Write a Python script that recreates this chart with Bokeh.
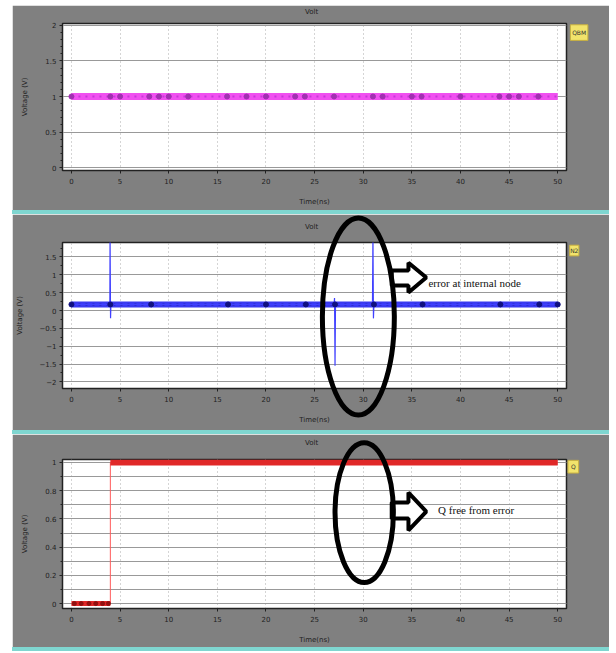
import numpy as np
from bokeh.plotting import figure
from bokeh.models import Range1d, FixedTicker, PolyAnnotation, Div
from bokeh.layouts import column
from bokeh.core.properties import value
from bokeh.embed import file_html
from bokeh.resources import INLINE

# ---------------- data ----------------
x_ticks = [0, 5, 10, 15, 20, 25, 30, 35, 40, 45, 50]
x_label = "Time(ns)"
y_label = "Voltage (V)"
panel_titles = ["Volt", "Volt", "Volt"]
legend_names = ["QBM", "N2", "Q"]

# panel 1 : constant node
p1_y_ticks = [0.0, 0.5, 1.0, 1.5, 2.0]
p1_t = [0, 50]
p1_v = [1.0, 1.0]
p1_dot_t = [0, 4, 5, 8, 9, 10, 12, 16, 18, 20, 23, 24, 27, 31, 32, 35, 36, 40, 44, 45, 46, 48]
p1_dot_v = [1.0] * len(p1_dot_t)

# panel 2 : internal node with error spikes
p2_y_ticks = [-2.0, -1.5, -1.0, -0.5, 0.0, 0.5, 1.0, 1.5]
p2_t = [0, 3.95, 3.97, 4.02, 4.06, 27.0, 27.05, 27.1, 27.15, 30.95, 31.0, 31.05, 31.1, 50]
p2_v = [0.17, 0.17, 2.1, -0.22, 0.17, 0.17, 0.35, -1.55, 0.17, 0.17, 2.1, -0.22, 0.17, 0.17]
p2_base_t = [0, 50]
p2_base_v = [0.17, 0.17]
p2_dot_t = [0, 4, 8.2, 16.1, 20, 24.1, 27.1, 31.1, 36.1, 44.1, 48.1, 50]
p2_dot_v = [0.17] * len(p2_dot_t)

# panel 3 : output Q
p3_y_ticks = [0.0, 0.2, 0.4, 0.6, 0.8, 1.0]
p3_t = [0, 4.0, 4.0, 50]
p3_v = [0.0, 0.0, 1.0, 1.0]
p3_low_t = [0, 4.0]
p3_low_v = [0.0, 0.0]
p3_high_t = [4.0, 50]
p3_high_v = [1.0, 1.0]
p3_dot_t = [0.3, 1.0, 1.8, 2.5, 3.2, 3.8]
p3_dot_v = [0.0] * len(p3_dot_t)

annot1_text = "error at internal node"
annot2_text = "Q free from error"

# ---------------- style ----------------
GRAY = "#808080"
CYAN = "#7fd6d0"
W = 597
X_RANGE = (-0.92, 50.9)


def make_panel(height, top, bottom, yr, yticks, yminor, title, tx, ty, leg, lx, ly, lw, lh):
    p = figure(width=W, height=height, x_range=Range1d(*X_RANGE), y_range=Range1d(*yr),
               output_backend="svg", toolbar_location=None,
               min_border_left=44, min_border_right=43,
               min_border_top=top, min_border_bottom=bottom)
    p.border_fill_color = GRAY
    p.background_fill_color = "white"
    p.outline_line_color = "#222222"
    p.outline_line_width = 1.5
    p.xaxis.ticker = FixedTicker(ticks=x_ticks)
    p.yaxis.ticker = FixedTicker(ticks=yticks, minor_ticks=yminor)
    for ax in (p.xaxis[0], p.yaxis[0]):
        ax.axis_line_color = "#222222"
        ax.major_tick_line_color = "#222222"
        ax.major_tick_out = 3
        ax.major_tick_in = 0
        ax.minor_tick_line_color = "#222222"
        ax.minor_tick_out = 2
        ax.minor_tick_in = 0
        ax.major_label_text_font = "DejaVu Sans"
        ax.major_label_text_font_size = "7px"
        ax.major_label_text_color = "#222222"
        ax.axis_label_text_font = "DejaVu Sans"
        ax.axis_label_text_font_size = "7px"
        ax.axis_label_text_font_style = "normal"
        ax.axis_label_text_color = "#222222"
    p.xaxis.minor_tick_line_color = None
    p.xaxis.axis_label = x_label
    p.xaxis.major_label_standoff = 4
    p.xaxis.axis_label_standoff = 11
    p.yaxis.axis_label = y_label
    p.yaxis.major_label_standoff = 3
    p.yaxis.axis_label_standoff = 13
    p.xgrid.grid_line_color = "#aaaaaa"
    p.xgrid.grid_line_dash = "1 3"
    p.ygrid.grid_line_color = "#999999"
    p.ygrid.grid_line_width = 1
    # title and legend tag drawn as overlay-level glyphs (outside the frame)
    p.text(x=[tx], y=[ty], text=[title], text_align="center", text_baseline="middle",
           text_font=value("DejaVu Sans"), text_font_size="7px", text_color="#222222",
           level="overlay")
    p.rect(x=[lx], y=[ly], width=lw, height=lh, fill_color="#f2e36b",
           line_color="#c8b040", level="overlay")
    p.text(x=[lx], y=[ly], text=[leg], text_align="center", text_baseline="middle",
           text_font=value("DejaVu Sans"), text_font_size="6px", text_color="#333333",
           level="overlay")
    return p


def ellipse_mark(p, cx, cy, rx, ry):
    p.ellipse(x=[cx], y=[cy], width=2 * rx, height=2 * ry, fill_color=None,
              line_color="black", line_width=5, level="overlay")


def arrow_annotation(p, x0, x1, x2, ys_top, ys_bot, yh_top, yh_bot, ytip):
    xs = [x0, x1, x1, x2, x1, x1, x0]
    ys = [ys_top, ys_top, yh_top, ytip, yh_bot, ys_bot, ys_bot]
    p.add_layout(PolyAnnotation(xs=xs, ys=ys, fill_color="white", fill_alpha=1,
                                line_color="black", line_alpha=1, line_width=4))


# ---- panel 1 ----
p1 = make_panel(205, 18, 40, (-0.042, 2.028), p1_y_ticks, list(np.arange(0, 2.01, 0.1)),
                panel_titles[0], 24.7, 2.19, legend_names[0], 52.2, 1.9, 1.8, 0.22)
p1.line(p1_t, p1_v, line_color="#f050f0", line_width=7)
p1.line(p1_t, p1_v, line_color="#c838d8", line_width=2, line_dash="2 5")
p1.scatter(p1_dot_t, p1_dot_v, size=5, color="#a030b0")

# ---- panel 2 ----
p2 = make_panel(216, 28, 42, (-2.185, 1.905), p2_y_ticks, list(np.arange(-2.25, 1.9, 0.25)),
                panel_titles[1], 24.7, 2.35, legend_names[1], 51.7, 1.68, 0.95, 0.3)
p2.line(p2_base_t, p2_base_v, line_color="#3a3af0", line_width=6)
p2.line(p2_base_t, p2_base_v, line_color="#2020b0", line_width=2, line_dash="2 5")
p2.line(p2_t, p2_v, line_color="#4040ff", line_width=1.2)
p2.scatter(p2_dot_t, p2_dot_v, size=5, color="#101080")
ellipse_mark(p2, 29.5, -0.17, 3.7, 2.76)
arrow_annotation(p2, 32.93, 34.65, 36.48, 1.12, 0.70, 1.34, 0.504, 0.924)
p2.text(x=[36.7], y=[0.76], text=[annot1_text], text_align="left", text_baseline="middle",
        text_font=value("Liberation Serif"), text_font_size="11px", text_color="#111111")

# ---- panel 3 ----
p3 = make_panel(213, 25, 39, (-0.035, 1.021), p3_y_ticks, list(np.arange(0, 1.01, 0.1)),
                panel_titles[2], 24.7, 1.135, legend_names[2], 51.6, 0.97, 1.1, 0.09)
p3.ygrid.minor_grid_line_color = "#999999"
p3.line(p3_t, p3_v, line_color="#ff5a5a", line_width=1)
p3.line(p3_high_t, p3_high_v, line_color="#e02828", line_width=6)
p3.line(p3_low_t, p3_low_v, line_color="#e02828", line_width=5)
p3.scatter(p3_dot_t, p3_dot_v, size=4, color="#901010")
ellipse_mark(p3, 30.1, 0.645, 3.0, 0.496)
arrow_annotation(p3, 32.93, 34.65, 36.48, 0.716, 0.603, 0.787, 0.518, 0.652)
p3.text(x=[37.7], y=[0.66], text=[annot2_text], text_align="left", text_baseline="middle",
        text_font=value("Liberation Serif"), text_font_size="11px", text_color="#111111")


def sep():
    return Div(width=W, height=4, margin=0, styles={"background-color": CYAN})


layout = column(p1, sep(), p2, sep(), p3, sep(), spacing=0, margin=(5, 0, 0, 12))

open("out.html", "w").write(file_html(layout, INLINE))
